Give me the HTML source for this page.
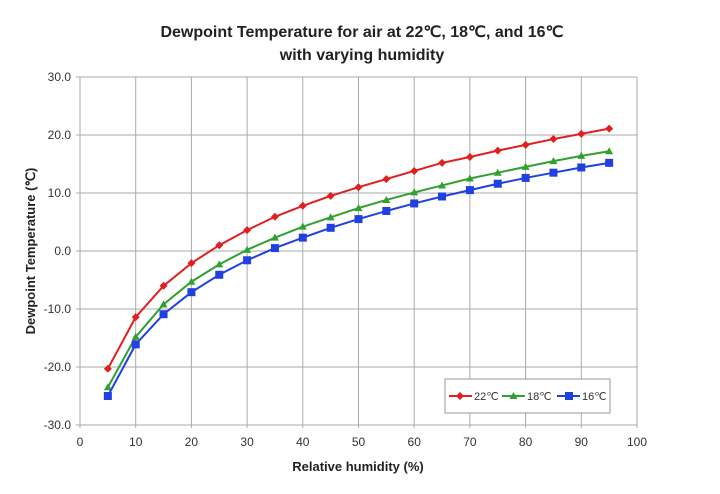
<!DOCTYPE html>
<html><head><meta charset="utf-8"><style>body{margin:0;background:#fff}svg{display:block}text{font-family:"Liberation Sans",Arial,sans-serif}</style></head><body>
<svg id="s" width="720" height="494" xmlns="http://www.w3.org/2000/svg">
<text x="362" y="37" text-anchor="middle" font-size="16" font-weight="bold" fill="#222">Dewpoint Temperature for air at 22℃, 18℃, and 16℃</text>
<text x="362" y="60" text-anchor="middle" font-size="16" font-weight="bold" fill="#222">with varying humidity</text>
<text x="358" y="471" text-anchor="middle" font-size="13" font-weight="bold" fill="#222">Relative humidity (%)</text>
<text transform="translate(35,251) rotate(-90)" text-anchor="middle" font-size="13" font-weight="bold" fill="#222">Dewpoint Temperature (℃)</text>
<g id="g"></g>
<rect x="445" y="379" width="165" height="34" fill="#fff" stroke="#999"/>
<line x1="449" y1="396" x2="472" y2="396" stroke="#e02020" stroke-width="2"/><path d="M460 392l4 4-4 4-4-4z" fill="#e02020"/><text x="474" y="400" font-size="11" fill="#333">22℃</text>
<line x1="502" y1="396" x2="525" y2="396" stroke="#30a030" stroke-width="2"/><path d="M513.5 392l4 7h-8z" fill="#30a030"/><text x="527" y="400" font-size="11" fill="#333">18℃</text>
<line x1="557" y1="396" x2="580" y2="396" stroke="#2040e0" stroke-width="2"/><rect x="565" y="392" width="8" height="8" fill="#2040e0"/><text x="582" y="400" font-size="11" fill="#333">16℃</text>
</svg>
<script>
var g=document.getElementById('g'),h='';
var X=v=>80+v*5.57,Y=v=>77+(30-v)*5.8;
for(var i=0;i<=10;i++){var x=X(i*10);h+=`<line x1="${x}" y1="77" x2="${x}" y2="428" stroke="#aaa"/><text x="${x}" y="446" text-anchor="middle" font-size="12" fill="#333">${i*10}</text>`;}
for(var v=30;v>=-30;v-=10){var y=Y(v);h+=`<line x1="76" y1="${y}" x2="637" y2="${y}" stroke="#aaa"/><text x="71" y="${y+4}" text-anchor="end" font-size="12" fill="#333">${v.toFixed(1)}</text>`;}
var d=[["#e02020",[-20.3,-11.4,-6.0,-2.1,1.0,3.6,5.9,7.8,9.5,11.0,12.4,13.8,15.2,16.2,17.3,18.3,19.3,20.2,21.1],0],
["#30a030",[-23.5,-14.8,-9.2,-5.3,-2.3,0.2,2.3,4.2,5.8,7.4,8.8,10.1,11.3,12.5,13.5,14.5,15.5,16.4,17.2],1],
["#2040e0",[-25.0,-16.1,-10.9,-7.1,-4.1,-1.6,0.5,2.3,4.0,5.5,6.9,8.2,9.4,10.5,11.6,12.6,13.5,14.4,15.2],2]];
d.forEach(s=>{var p=s[1].map((v,i)=>X(5+5*i)+','+Y(v)).join(' ');h+=`<polyline points="${p}" fill="none" stroke="${s[0]}" stroke-width="2"/>`;
s[1].forEach((v,i)=>{var x=X(5+5*i),y=Y(v);
if(s[2]==0)h+=`<path d="M${x} ${y-4}l4 4-4 4-4-4z" fill="${s[0]}"/>`;
else if(s[2]==1)h+=`<path d="M${x} ${y-4}l4 7h-8z" fill="${s[0]}"/>`;
else h+=`<rect x="${x-4}" y="${y-4}" width="8" height="8" fill="${s[0]}"/>`;});});
g.innerHTML=h;
</script>
</body></html>
